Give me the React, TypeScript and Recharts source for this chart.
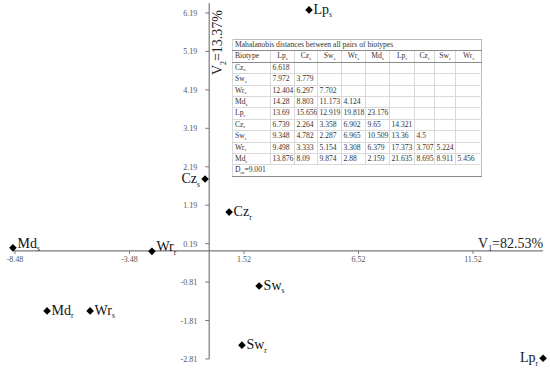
import React from 'react';
import { ScatterChart, Scatter, XAxis, YAxis, ReferenceLine, ReferenceDot } from 'recharts';

// canonical discriminant scores
const biotypes = ['Lp_s', 'Cz_s', 'Sw_s', 'Wr_s', 'Md_s', 'Lp_r', 'Cz_r', 'Sw_r', 'Wr_r', 'Md_r'];
const v1Scores = [4.36, -0.18, 2.18, -5.2, -8.57, 14.58, 0.87, 1.43, -2.5, -7.08];
const v2Scores = [6.27, 1.87, -0.91, -1.56, 0.08, -2.79, 1.01, -2.45, -0.01, -1.56];

const xTicks = [-8.48, -3.48, 1.52, 6.52, 11.52];
const yTicks = [6.19, 5.19, 4.19, 3.19, 2.19, 1.19, 0.19, -0.81, -1.81, -2.81];

const xTitle = ['V', '1', '=82.53%'];
const yTitle = ['V', '2', '=13.37%'];

// Mahalanobis distances (lower triangle, rows = biotypes[1..], cols = biotypes[0..8])
const tableTitle = 'Mahalanobis distances between all pairs of biotypes';
const tableCorner = 'Biotype';
const distances = [
  [6.618],
  [7.972, 3.779],
  [12.404, 6.297, 7.702],
  [14.28, 8.803, 11.173, 4.124],
  [13.69, 15.656, 12.919, 19.818, 23.176],
  [6.739, 2.264, 3.358, 6.902, 9.65, 14.321],
  [9.348, 4.782, 2.287, 6.965, 10.509, 13.36, 4.5],
  [9.498, 3.333, 5.154, 3.308, 6.379, 17.373, 3.707, 5.224],
  [13.876, 8.09, 9.874, 2.88, 2.159, 21.635, 8.695, 8.911, 5.456],
];
const meanDistance = ['D', 'm', '=9.001'];

const data = biotypes.map((name, i) => ({ name, v1: v1Scores[i], v2: v2Scores[i] }));

// layout
const W = 550;
const H = 370;
const xDomain = [-9.135, 14.882];
const yDomain = [-3.097, 6.528];
const xAxisEnds = [-8.57, 14.58];
const yAxisEnds = [-2.81, 6.45];
const labelPlacement: Record<string, string> = { Cz_s: 'left', Lp_r: 'left', Md_s: 'above', Wr_r: 'above' };
const colWidths = [38, 24, 23, 24, 24, 24, 25, 20, 21, 26];

const SERIF = "'Liberation Serif', 'Times New Roman', serif";
const AXIS = '#7a7a7a';

const Sub = ({ parts, size }: { parts: string[]; size: number }) => (
  <>
    <tspan>{parts[0]}</tspan>
    <tspan fontSize={size * 0.55} dy={size * 0.25}>{parts[1]}</tspan>
    {parts[2] ? <tspan dy={-size * 0.25}>{parts[2]}</tspan> : null}
  </>
);

const PointShape = (props: any) => {
  const { cx, cy, payload } = props;
  const [base, sub] = payload.name.split('_');
  const place = labelPlacement[payload.name] || 'right';
  const s = 3.8;
  const fs = 14;
  let tx = cx + 4.5;
  let ty = cy + 4;
  let anchor: any = 'start';
  if (place === 'left') {
    tx = cx - 5;
    anchor = 'end';
  }
  if (place === 'above') ty = cy;
  return (
    <g>
      <polygon points={`${cx},${cy - s} ${cx + s},${cy} ${cx},${cy + s} ${cx - s},${cy}`} fill="#000" />
      <text x={tx} y={ty} fontSize={fs} fontFamily={SERIF} fill="#111" textAnchor={anchor}>
        <Sub parts={[base, sub]} size={fs} />
      </text>
    </g>
  );
};

const XTick = (props: any) => {
  const { cx, cy, value } = props;
  return (
    <g>
      <line x1={cx} y1={cy} x2={cx} y2={cy + 3} stroke={AXIS} />
      <text x={cx} y={cy + 11} fontSize={8} fontFamily={SERIF} fill="#555" textAnchor="middle">{value}</text>
    </g>
  );
};

const YTick = (props: any) => {
  const { cx, cy, value } = props;
  return (
    <g>
      <line x1={cx - 4} y1={cy} x2={cx} y2={cy} stroke={AXIS} />
      <text x={cx - 12} y={cy + 3} fontSize={8} fontFamily={SERIF} fill="#555" textAnchor="end">{value}</text>
    </g>
  );
};

const XTitle = (props: any) => (
  <text x={props.cx} y={props.cy - 3} fontSize={14} fontFamily={SERIF} fill="#222" textAnchor="end">
    <Sub parts={xTitle} size={14} />
  </text>
);

const YTitle = (props: any) => {
  const px = props.cx + 13;
  const py = props.cy - 3;
  return (
    <text x={px} y={py} transform={`rotate(-90, ${px}, ${py})`} fontSize={14} fontFamily={SERIF} fill="#222" textAnchor="end">
      <Sub parts={yTitle} size={14} />
    </text>
  );
};

const subStyle = { fontSize: 5, position: 'relative' as const, top: 1.5, lineHeight: 0 };

const SubSpan = ({ name }: { name: string }) => {
  const [base, sub] = name.split('_');
  return (
    <span>
      {base}
      <span style={subStyle}>{sub}</span>
    </span>
  );
};

const thin = '1px solid #d9d9d9';
const dark = '1px solid #8a8a8a';

const DistanceTable = () => {
  const cell = (extra: any = {}) => ({
    borderLeft: thin,
    borderBottom: thin,
    padding: '0 0 0 1.5px',
    height: 10.4,
    lineHeight: '10.4px',
    whiteSpace: 'nowrap' as const,
    overflow: 'hidden',
    ...extra,
  });
  return (
    <table
      style={{
        position: 'absolute',
        left: 232,
        top: 39,
        width: 249,
        tableLayout: 'fixed',
        borderCollapse: 'collapse',
        fontFamily: SERIF,
        fontSize: 7.6,
        color: '#333',
        background: '#fff',
        border: '1px solid #bbb',
      }}
    >
      <colgroup>
        {colWidths.map((w, i) => (
          <col key={i} style={{ width: w }} />
        ))}
      </colgroup>
      <tbody>
        <tr>
          <td colSpan={10} style={cell({ borderBottom: dark, paddingLeft: 2 })}>{tableTitle}</td>
        </tr>
        <tr>
          <td style={cell({ borderBottom: dark, paddingLeft: 2 })}>{tableCorner}</td>
          {biotypes.slice(0, 9).map((b) => (
            <td key={b} style={cell({ borderBottom: dark, textAlign: 'center', padding: 0 })}>
              <SubSpan name={b} />
            </td>
          ))}
        </tr>
        {distances.map((row, r) => (
          <tr key={r}>
            <td style={cell({ paddingLeft: 2 })}>
              <SubSpan name={biotypes[r + 1]} />
            </td>
            {biotypes.slice(0, 9).map((_, c) => (
              <td key={c} style={cell()}>{c < row.length ? String(row[c]) : ''}</td>
            ))}
          </tr>
        ))}
        <tr>
          <td colSpan={10} style={cell({ borderTop: dark, borderBottom: dark, paddingLeft: 2 })}>
            {meanDistance[0]}
            <span style={subStyle}>{meanDistance[1]}</span>
            {meanDistance[2]}
          </td>
        </tr>
      </tbody>
    </table>
  );
};

const App = () => {
  return (
    <div style={{ position: 'absolute', left: 0, top: 0, width: W, height: H, background: '#fff' }}>
      <ScatterChart width={W} height={H} margin={{ top: 0, right: 0, bottom: 0, left: 0 }}>
        <XAxis type="number" dataKey="v1" domain={xDomain} allowDataOverflow hide />
        <YAxis type="number" dataKey="v2" domain={yDomain} allowDataOverflow hide />
        <ReferenceLine
          segment={[{ x: xAxisEnds[0], y: 0 }, { x: xAxisEnds[1], y: 0 }]}
          stroke={AXIS}
          strokeWidth={1.2}
          ifOverflow="visible"
        />
        <ReferenceLine
          segment={[{ x: 0, y: yAxisEnds[0] }, { x: 0, y: yAxisEnds[1] }]}
          stroke={AXIS}
          strokeWidth={1.2}
          ifOverflow="visible"
        />
        {xTicks.map((t) => (
          <ReferenceDot key={`x${t}`} x={t} y={0} r={0} ifOverflow="visible" shape={(p: any) => <XTick {...p} value={t} />} />
        ))}
        {yTicks.map((t) => (
          <ReferenceDot key={`y${t}`} x={0} y={t} r={0} ifOverflow="visible" shape={(p: any) => <YTick {...p} value={t} />} />
        ))}
        <ReferenceDot x={xAxisEnds[1]} y={0} r={0} ifOverflow="visible" shape={(p: any) => <XTitle {...p} />} />
        <ReferenceDot x={0} y={yTicks[0]} r={0} ifOverflow="visible" shape={(p: any) => <YTitle {...p} />} />
        <Scatter data={data} isAnimationActive={false} shape={(p: any) => <PointShape {...p} />} />
      </ScatterChart>
      <DistanceTable />
    </div>
  );
};

export default App;
